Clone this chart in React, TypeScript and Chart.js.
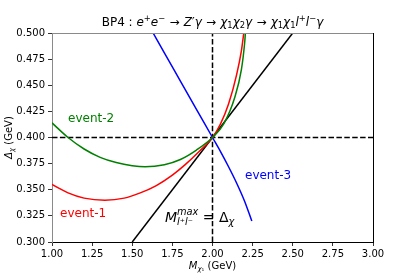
import React, { useEffect, useRef } from "react";
import { Chart, registerables } from "chart.js";
Chart.register(...registerables);

// ---- data ----
const xTickValues = [1.0, 1.25, 1.5, 1.75, 2.0, 2.25, 2.5, 2.75, 3.0];
const yTickValues = [0.3, 0.325, 0.35, 0.375, 0.4, 0.425, 0.45, 0.475, 0.5];

const event1M = [1.0, 1.1, 1.2, 1.33, 1.45, 1.55, 1.65, 1.75, 1.83, 1.92, 2.0, 2.05, 2.1, 2.15, 2.18, 2.195];
const event1D = [0.355, 0.347, 0.342, 0.34, 0.342, 0.347, 0.354, 0.364, 0.374, 0.387, 0.4, 0.413, 0.432, 0.46, 0.483, 0.5];

const event2M = [1.0, 1.1, 1.2, 1.3, 1.4, 1.5, 1.58, 1.7, 1.8, 1.9, 2.0, 2.07, 2.14, 2.18, 2.2, 2.205];
const event2D = [0.414, 0.4, 0.389, 0.381, 0.376, 0.373, 0.372, 0.374, 0.379, 0.388, 0.4, 0.413, 0.439, 0.465, 0.49, 0.5];

const event3M = [1.63, 1.7, 1.8, 1.9, 2.0, 2.05, 2.1, 2.15, 2.2, 2.245];
const event3D = [0.5, 0.481, 0.454, 0.427, 0.4, 0.3865, 0.372, 0.3565, 0.339, 0.32];

const edgeM = [1.5, 2.5];
const edgeD = [0.3, 0.5];

const hLineM = [1.0, 3.0];
const hLineD = [0.4, 0.4];
const vLineM = [2.0, 2.0];
const vLineD = [0.3, 0.5];

const pts = (xs: number[], ys: number[]) => xs.map((x, i) => ({ x, y: ys[i] }));

// ---- rich text helper ----
type Seg = { t?: string; i?: boolean; p?: "sup" | "sub"; sup?: Seg; sub?: Seg; pad?: number };
const FAM = '"DejaVu Sans"';
const fnt = (size: number, it?: boolean) => `${it ? "italic " : ""}${size}px ${FAM}`;

function segWidth(ctx: CanvasRenderingContext2D, s: Seg, size: number): number {
  if (s.sup || s.sub) {
    const a = s.sup ? segWidth(ctx, s.sup, size) : 0;
    const b = s.sub ? segWidth(ctx, s.sub, size) : 0;
    return Math.max(a, b);
  }
  const sz = s.p ? size * 0.7 : size;
  ctx.font = fnt(sz, s.i);
  return ctx.measureText(s.t || "").width + 2 * (s.pad || 0);
}

function drawSeg(ctx: CanvasRenderingContext2D, s: Seg, size: number, x: number, y: number, stacked = false) {
  if (s.sup || s.sub) {
    if (s.sup) drawSeg(ctx, s.sup, size, x, y, true);
    if (s.sub) drawSeg(ctx, s.sub, size, x, y, true);
    return;
  }
  const sz = s.p ? size * 0.7 : size;
  let dy = 0;
  if (s.p === "sup") dy = -size * (stacked ? 0.5 : 0.42);
  if (s.p === "sub") dy = size * (stacked ? 0.24 : 0.2);
  ctx.font = fnt(sz, s.i);
  ctx.fillText(s.t || "", x + (s.pad || 0), y + dy);
}

function drawRich(ctx: CanvasRenderingContext2D, segs: Seg[], size: number, x: number, y: number, align: "left" | "center", color: string) {
  ctx.save();
  ctx.fillStyle = color;
  ctx.textAlign = "left";
  ctx.textBaseline = "alphabetic";
  const widths = segs.map((s) => segWidth(ctx, s, size));
  const total = widths.reduce((a, b) => a + b, 0);
  let cx = align === "center" ? x - total / 2 : x;
  segs.forEach((s, k) => {
    drawSeg(ctx, s, size, cx, y);
    cx += widths[k];
  });
  ctx.restore();
  return total;
}

const ARROW: Seg = { t: "\u2192", pad: 4.2 };
const titleSegs: Seg[] = [
  { t: "BP4 : " },
  { t: "e", i: true }, { t: "+", p: "sup" },
  { t: "e", i: true }, { t: "\u2212", p: "sup" },
  ARROW,
  { t: "Z", i: true }, { t: "\u2032" }, { t: "\u03b3", i: true },
  ARROW,
  { t: "\u03c7", i: true }, { t: "1", p: "sub" },
  { t: "\u03c7", i: true }, { t: "2", p: "sub" },
  { t: "\u03b3", i: true },
  ARROW,
  { t: "\u03c7", i: true }, { t: "1", p: "sub" },
  { t: "\u03c7", i: true }, { t: "1", p: "sub" },
  { t: "l", i: true }, { t: "+", p: "sup" },
  { t: "l", i: true }, { t: "\u2212", p: "sup" },
  { t: "\u03b3", i: true },
];

const xLabelSegs: Seg[] = [
  { t: "M", i: true }, { t: "\u03c7", i: true, p: "sub" }, { t: "\u2081", p: "sub" }, { t: " (GeV)" },
];
const yLabelSegs: Seg[] = [
  { t: "\u0394", i: true }, { t: "\u03c7", i: true, p: "sub" }, { t: " (GeV)" },
];
const annSegs: Seg[] = [
  { t: "M", i: true },
  { sup: { t: "max", i: true, p: "sup" }, sub: { t: "l\u207al\u207b", i: true, p: "sub" } },
  { t: " = " },
  { t: "\u0394" },
  { t: "\u03c7", i: true, p: "sub" },
];

const overlay = {
  id: "overlay",
  afterDraw(chart: any) {
    const ctx: CanvasRenderingContext2D = chart.ctx;
    const a = chart.chartArea;
    const xs = chart.scales.x;
    const ys = chart.scales.y;
    // spines top & right
    ctx.save();
    ctx.lineWidth = 1;
    ctx.strokeStyle = "#8a8a8a";
    ctx.beginPath();
    ctx.moveTo(a.left, a.top + 0.5);
    ctx.lineTo(a.right, a.top + 0.5);
    ctx.stroke();
    ctx.strokeStyle = "#000";
    ctx.beginPath();
    ctx.moveTo(a.right + 0.5, a.top);
    ctx.lineTo(a.right + 0.5, a.bottom);
    ctx.stroke();
    ctx.restore();

    // title
    drawRich(ctx, titleSegs, 12, (a.left + a.right) / 2, a.top - 7, "center", "#000");
    // x label
    drawRich(ctx, xLabelSegs, 10, (a.left + a.right) / 2, 269, "center", "#000");
    // y label rotated
    ctx.save();
    ctx.translate(11.5, (a.top + a.bottom) / 2);
    ctx.rotate(-Math.PI / 2);
    drawRich(ctx, yLabelSegs, 10, 0, 0, "center", "#000");
    ctx.restore();

    // annotations
    const lab = (txt: string, mx: number, dy: number, color: string) => {
      ctx.save();
      ctx.font = fnt(12);
      ctx.fillStyle = color;
      ctx.textAlign = "left";
      ctx.textBaseline = "alphabetic";
      ctx.fillText(txt, xs.getPixelForValue(mx), ys.getPixelForValue(dy));
      ctx.restore();
    };
    lab("event-2", 1.1, 0.415, "#008000");
    lab("event-1", 1.05, 0.324, "#ff0000");
    lab("event-3", 2.2025, 0.36, "#0000ff");
    drawRich(ctx, annSegs, 14, xs.getPixelForValue(1.704), ys.getPixelForValue(0.3194), "left", "#000");
  },
};

export default function App() {
  const ref = useRef<HTMLCanvasElement | null>(null);
  useEffect(() => {
    if (!ref.current) return;
    const line = (data: any, color: string, order: number, dash?: number[]) => ({
      data,
      borderColor: color,
      backgroundColor: color,
      borderWidth: 1.5,
      borderDash: dash || [],
      showLine: true,
      pointRadius: 0,
      pointHoverRadius: 0,
      cubicInterpolationMode: "monotone",
      fill: false,
      order,
    });
    const chart = new Chart(ref.current, {
      type: "scatter",
      data: {
        datasets: [
          line(pts(event1M, event1D), "#ff0000", 3),
          line(pts(event2M, event2D), "#008000", 2),
          line(pts(event3M, event3D), "#0000ff", 4),
          line(pts(edgeM, edgeD), "#000000", 5),
          line(pts(hLineM, hLineD), "#000000", 6, [5.5, 2.4]),
          line(pts(vLineM, vLineD), "#000000", 7, [5.5, 2.4]),
        ] as any,
      },
      options: {
        animation: false,
        responsive: false,
        events: [],
        layout: { padding: { left: 0, top: 33, right: 42, bottom: 0 } },
        plugins: { legend: { display: false }, tooltip: { enabled: false }, title: { display: false } },
        scales: {
          x: {
            type: "linear",
            min: 1,
            max: 3,
            afterFit: (s: any) => { s.height = 35; },
            afterBuildTicks: (s: any) => { s.ticks = xTickValues.map((v) => ({ value: v })); },
            ticks: {
              color: "#000",
              font: { family: "DejaVu Sans", size: 10 },
              padding: 2,
              maxRotation: 0,
              autoSkip: false,
              callback: (v: any) => Number(v).toFixed(2),
            },
            grid: { display: true, drawOnChartArea: false, drawTicks: true, tickLength: 4, tickColor: "#000", tickWidth: 0.8 },
            border: { display: true, color: "#000", width: 1 },
          },
          y: {
            type: "linear",
            min: 0.3,
            max: 0.5,
            afterFit: (s: any) => { s.width = 52; },
            afterBuildTicks: (s: any) => { s.ticks = yTickValues.map((v) => ({ value: v })); },
            ticks: {
              color: "#000",
              font: { family: "DejaVu Sans", size: 10 },
              padding: 3,
              autoSkip: false,
              callback: (v: any) => Number(v).toFixed(3),
            },
            grid: { display: true, drawOnChartArea: false, drawTicks: true, tickLength: 4, tickColor: "#000", tickWidth: 0.8 },
            border: { display: true, color: "#8a8a8a", width: 1 },
          },
        },
      } as any,
      plugins: [overlay],
    });
    return () => chart.destroy();
  }, []);
  return (
    <div style={{ position: "absolute", left: 0, top: 0, width: 415, height: 277, background: "#fff" }}>
      <canvas ref={ref} width={415} height={277} style={{ display: "block" }} />
    </div>
  );
}
